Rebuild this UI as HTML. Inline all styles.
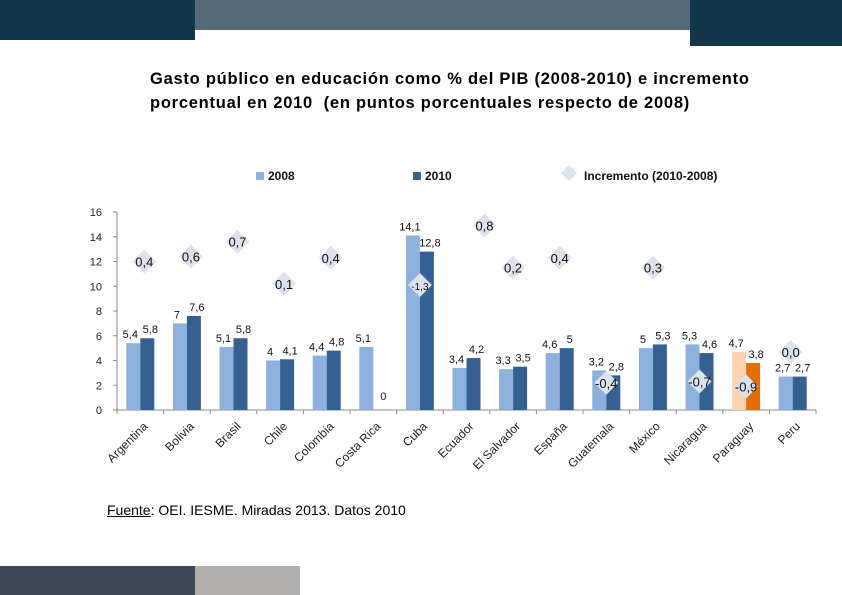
<!DOCTYPE html>
<html><head><meta charset="utf-8"><style>
body{margin:0;background:#fff;}
#page{position:relative;width:842px;height:595px;overflow:hidden;font-family:"Liberation Sans",sans-serif;}
.abs{position:absolute;}
</style></head><body>
<div id="page">
<div class="abs" style="left:0;top:0;width:195px;height:40px;background:#12364a"></div>
<div class="abs" style="left:195px;top:0;width:495px;height:30px;background:#546a78"></div>
<div class="abs" style="left:690px;top:0;width:152px;height:46px;background:#12364a"></div>
<div class="abs" style="left:150px;top:67px;font-size:16.5px;letter-spacing:0.75px;font-weight:bold;line-height:24px;color:#000;white-space:nowrap">Gasto público en educación como % del PIB (2008-2010) e incremento<br>porcentual en 2010&nbsp; (en puntos porcentuales respecto de 2008)</div>
<div class="abs" style="left:107px;top:502px;font-size:14px;color:#000"><u>Fuente</u>: OEI. IESME. Miradas 2013. Datos 2010</div>
<div class="abs" style="left:0;top:566px;width:195px;height:29px;background:#3d4a53"></div>
<div class="abs" style="left:195px;top:566px;width:105px;height:29px;background:#b0afad"></div>
<svg id="chart" class="abs" style="left:0;top:0" width="842" height="595"></svg>
</div>
<script>
const categories=["Argentina","Bolivia","Brasil","Chile","Colombia","Costa Rica","Cuba","Ecuador","El Salvador","España","Guatemala","México","Nicaragua","Paraguay","Peru"];
const values2008=[5.4,7,5.1,4,4.4,5.1,14.1,3.4,3.3,4.6,3.2,5,5.3,4.7,2.7];
const values2010=[5.8,7.6,5.8,4.1,4.8,0,12.8,4.2,3.5,5,2.8,5.3,4.6,3.8,2.7];
const increments=["0,4","0,6","0,7","0,1","0,4",null,"-1,3","0,8","0,2","0,4","-0,4","0,3","-0,7","-0,9","0,0"];
// where the increment markers sit, in primary-axis units (as laid out in the source)
const incrementLevel=[12.0,12.4,13.6,10.2,12.3,null,10.1,14.9,11.5,12.3,2.2,11.5,2.3,1.9,4.7];
const yTicks=[0,2,4,6,8,10,12,14,16];
const NS="http://www.w3.org/2000/svg";
const svg=document.getElementById('chart');
const x0=117,x1=816,y0=410,yTop=212,yMax=16;
const band=(x1-x0)/categories.length;
const yS=v=>y0-(v/yMax)*(y0-yTop);
const xC=i=>x0+band*(i+0.5);
function mk(tag,attrs,text){const e=document.createElementNS(NS,tag);for(const k in attrs)e.setAttribute(k,attrs[k]);if(text!=null)e.textContent=text;svg.appendChild(e);return e;}
let ax=mk('line',{x1:x0,y1:yTop,x2:x0,y2:y0,stroke:'#888'});


let bx=mk('line',{x1:x0-4,y1:y0,x2:x1,y2:y0,stroke:'#888'});


yTicks.forEach(t=>{
  mk('line',{x1:x0-4,y1:yS(t),x2:x0,y2:yS(t),stroke:'#888'});
  const l=mk('text',{x:102,y:yS(t)+4,'font-size':11,'text-anchor':'end',fill:'#222'},String(t));
  
  
});
for(let i=0;i<=categories.length;i++){mk('line',{x1:x0+band*i,y1:y0,x2:x0+band*i,y2:y0+4,stroke:'#888'});}
const bw=14;
categories.forEach((c,i)=>{
  const cx=xC(i);
  const isP=c==="Paraguay";
  const a=values2008[i],b=values2010[i];
  const r1=mk('rect',{x:cx-bw,y:yS(a),width:bw,height:y0-yS(a),fill:isP?'#fbd3b0':'#8db0dd'});
  
  
  const r2=mk('rect',{x:cx,y:yS(b),width:bw,height:y0-yS(b),fill:isP?'#e46c0a':'#376092'});
  
  
  const fa=String(a).replace('.',','),fb=String(b).replace('.',',');
  const t1=mk('text',{x:cx-bw/2-3,y:yS(a)-5,'font-size':11,'text-anchor':'middle',fill:'#111'},fa);
  
  
  const t2=mk('text',{x:cx+bw/2+3,y:(b===0?y0-10:yS(b)-5),'font-size':11,'text-anchor':'middle',fill:'#111'},fb);
  
  
  const lab=mk('text',{x:cx+8,y:y0+17,'font-size':12,'text-anchor':'end',fill:'#222',transform:`rotate(-45 ${cx+8} ${y0+17})`},c);
  
  
  if(increments[i]!=null){
    const dy=yS(incrementLevel[i]);
    const dx=(c==="Cuba")?cx:cx+(i>=7?(i===7?18:i===14?-2:0):4);
    const d=mk('polygon',{points:`${dx},${dy-12} ${dx+12},${dy} ${dx},${dy+12} ${dx-12},${dy}`,fill:'#dce3ee'});
    
    
    const tl=mk('text',{x:dx,y:dy+5,'font-size':c==="Cuba"?10:13,'text-anchor':'middle',fill:'#111'},increments[i]);
    
    
  }
});
const lg=[["#8db0dd","2008",256],["#376092","2010",413]];
lg.forEach(l=>{
  const s=mk('rect',{x:l[2],y:172,width:8,height:8,fill:l[0]});
  
  
  const t=mk('text',{x:l[2]+12,y:180,'font-size':12,'font-weight':'bold',fill:'#111'},l[1]);
  
  
});
const ld=mk('polygon',{points:'569,165 577,173 569,181 561,173',fill:'#dce3ee'});


const lt=mk('text',{x:584,y:180,'font-size':12,'font-weight':'bold',fill:'#111'},'Incremento (2010-2008)');


</script>
</body></html>
